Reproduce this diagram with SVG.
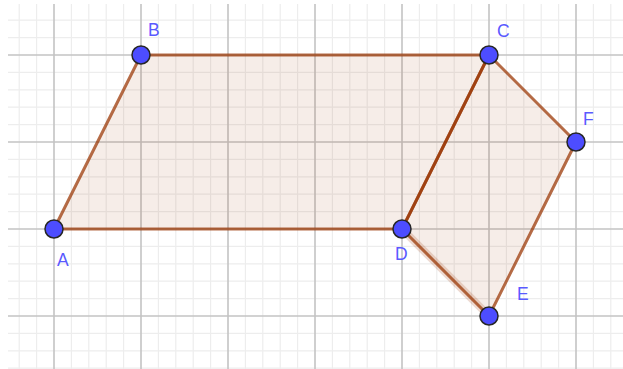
<svg xmlns="http://www.w3.org/2000/svg" width="623" height="369" viewBox="0 0 623 369">
<style>
.minor{stroke:#ededed;stroke-width:1.2;fill:none}
.major{stroke:#c4c4c4;stroke-width:1.6;fill:none}
.poly{fill:#993300;fill-opacity:0.09;stroke:none}
.seg{stroke:#993300;stroke-opacity:0.72;stroke-width:3;stroke-linecap:round;fill:none}
.glow{stroke:#993300;stroke-opacity:0.18;stroke-width:8;stroke-linecap:round;fill:none}
.pt{fill:#4d4dff;stroke:#262626;stroke-width:1.5}
.lbl{font-family:"Liberation Sans",Arial,sans-serif;font-size:17.5px;fill:#5a5aff}
</style>
<rect width="623" height="369" fill="#ffffff"/>
<g id="grid">
<path class="minor" d="M19.2 4V369M36.6 4V369M71.4 4V369M88.8 4V369M106.2 4V369M123.6 4V369M158.4 4V369M175.8 4V369M193.2 4V369M210.6 4V369M245.4 4V369M262.8 4V369M280.2 4V369M297.6 4V369M332.4 4V369M349.8 4V369M367.2 4V369M384.6 4V369M419.4 4V369M436.8 4V369M454.2 4V369M471.6 4V369M506.4 4V369M523.8 4V369M541.2 4V369M558.6 4V369M593.4 4V369M610.8 4V369"/>
<path class="minor" d="M8 20.2H623M8 37.6H623M8 72.4H623M8 89.8H623M8 107.2H623M8 124.6H623M8 159.4H623M8 176.8H623M8 194.2H623M8 211.6H623M8 246.4H623M8 263.8H623M8 281.2H623M8 298.6H623M8 333.4H623M8 350.8H623M8 368.2H623"/>
<path class="major" d="M54 4V369M141 4V369M228 4V369M315 4V369M402 4V369M489 4V369M576 4V369M8 55H623M8 142H623M8 229H623M8 316H623"/>
</g>
<g id="polygons">
<polygon id="ABCD" class="poly" points="54,229 141,55 489,55 402,229"/>
<polygon id="CFED" class="poly" points="489,55 576,142 489,316 402,229"/>
</g>
<g id="connectors">
<line class="glow" x1="402" y1="229" x2="489" y2="316"/>
<line class="seg" x1="54" y1="229" x2="141" y2="55"/>
<line class="seg" x1="141" y1="55" x2="489" y2="55"/>
<line class="seg" x1="489" y1="55" x2="402" y2="229"/>
<line class="seg" x1="402" y1="229" x2="54" y2="229"/>
<line class="seg" x1="489" y1="55" x2="576" y2="142"/>
<line class="seg" x1="576" y1="142" x2="489" y2="316"/>
<line class="seg" x1="489" y1="316" x2="402" y2="229"/>
<line class="seg" x1="402" y1="229" x2="489" y2="55"/>
</g>
<g id="A"><circle class="pt" cx="54" cy="229" r="9"/><text class="lbl" x="57" y="266">A</text></g>
<g id="B"><circle class="pt" cx="141" cy="55" r="9"/><text class="lbl" x="148" y="36">B</text></g>
<g id="C"><circle class="pt" cx="489" cy="55" r="9"/><text class="lbl" x="497" y="37">C</text></g>
<g id="D"><circle class="pt" cx="402" cy="229" r="9"/><text class="lbl" x="395" y="260">D</text></g>
<g id="E"><circle class="pt" cx="489" cy="316" r="9"/><text class="lbl" x="517" y="300">E</text></g>
<g id="F"><circle class="pt" cx="576" cy="142" r="9"/><text class="lbl" x="583" y="125">F</text></g>
</svg>
